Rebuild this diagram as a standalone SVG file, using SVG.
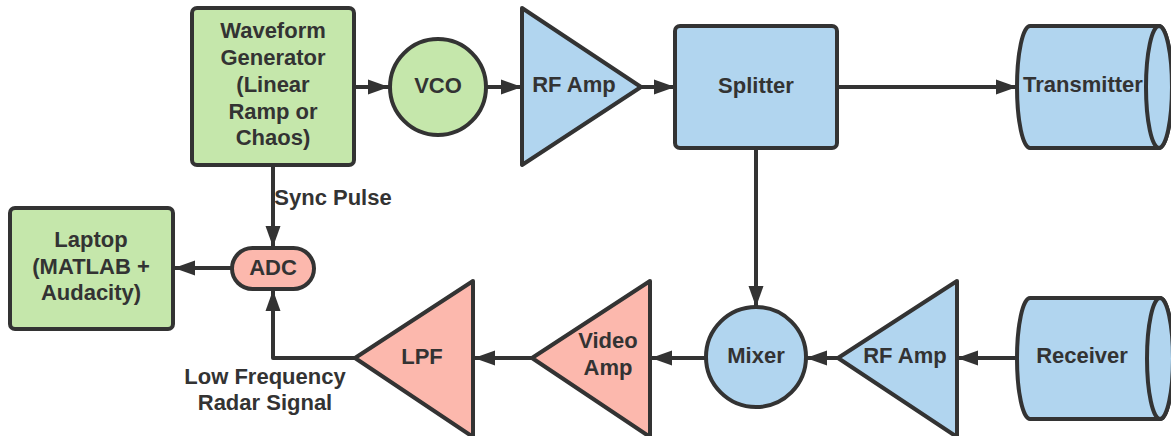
<svg xmlns="http://www.w3.org/2000/svg" width="1171" height="436" viewBox="0 0 1171 436">
<defs>
<style>
.n{stroke:#333;stroke-width:4;stroke-linejoin:round}
.g{fill:#c5e7ab}
.b{fill:#b1d5ef}
.p{fill:#fcb8ad}
.c{fill:none;stroke:#333;stroke-width:4}
text{font-family:"Liberation Sans",Arial,sans-serif;font-weight:bold;font-size:22px;fill:#333;text-anchor:middle;dominant-baseline:central}
</style>
<marker id="ah" markerUnits="userSpaceOnUse" markerWidth="21" markerHeight="16" refX="21" refY="8" orient="auto">
<path d="M0,0.5 L21,8 L0,15.5 z" fill="#333"/>
</marker>
</defs>
<rect width="1171" height="436" fill="#fff"/>
<g id="connectors">
<line class="c" x1="354" y1="87" x2="389" y2="87" marker-end="url(#ah)"/>
<line class="c" x1="486" y1="87" x2="522" y2="87" marker-end="url(#ah)"/>
<line class="c" x1="641" y1="87" x2="675" y2="87" marker-end="url(#ah)"/>
<line class="c" x1="837" y1="87" x2="1017" y2="87" marker-end="url(#ah)"/>
<line class="c" x1="756" y1="148" x2="756" y2="307" marker-end="url(#ah)"/>
<line class="c" x1="1017" y1="358" x2="957" y2="358" marker-end="url(#ah)"/>
<line class="c" x1="838" y1="358" x2="806" y2="358" marker-end="url(#ah)"/>
<line class="c" x1="705" y1="358" x2="651" y2="358" marker-end="url(#ah)"/>
<line class="c" x1="532" y1="358" x2="474" y2="358" marker-end="url(#ah)"/>
<polyline class="c" points="355,358 273,358 273,290" stroke-linejoin="round" marker-end="url(#ah)"/>
<line class="c" x1="273" y1="166" x2="273" y2="247" marker-end="url(#ah)"/>
<line class="c" x1="232" y1="268" x2="174" y2="268" marker-end="url(#ah)"/>
<text x="333" y="197">Sync Pulse</text>
<text x="265" y="376">Low Frequency</text>
<text x="265" y="402">Radar Signal</text>
</g>
<g id="waveform">
<rect class="n g" x="192" y="8" width="162" height="157" rx="5"/>
<text x="273" y="30">Waveform</text>
<text x="273" y="57">Generator</text>
<text x="273" y="84">(Linear</text>
<text x="273" y="111">Ramp or</text>
<text x="273" y="137">Chaos)</text>
</g>
<g id="vco">
<circle class="n g" cx="438" cy="87" r="48"/>
<text x="438" y="85">VCO</text>
</g>
<g id="rfamp1">
<path class="n b" d="M522,8 L641,87 L522,165 Z"/>
<text x="574" y="84">RF Amp</text>
</g>
<g id="splitter">
<rect class="n b" x="675" y="26" width="162" height="122" rx="5"/>
<text x="756" y="85">Splitter</text>
</g>
<g id="transmitter">
<path class="n b" d="M1030,26 L1159,26 A13,61 0 0 1 1159,148 L1030,148 A13,61 0 0 1 1030,26 Z"/>
<ellipse class="n b" cx="1159" cy="87" rx="13" ry="61"/>
<text x="1083" y="84">Transmitter</text>
</g>
<g id="receiver">
<path class="n b" d="M1030,298 L1160,298 A13,60.5 0 0 1 1160,419 L1030,419 A13,60.5 0 0 1 1030,298 Z"/>
<ellipse class="n b" cx="1160" cy="358.5" rx="13" ry="60.5"/>
<text x="1082" y="355">Receiver</text>
</g>
<g id="rfamp2">
<path class="n b" d="M957,281 L838,358 L957,437 Z"/>
<text x="905" y="355">RF Amp</text>
</g>
<g id="mixer">
<circle class="n b" cx="756" cy="357" r="50"/>
<text x="756" y="355">Mixer</text>
</g>
<g id="videoamp">
<path class="n p" d="M650,281 L532,358 L650,437 Z"/>
<text x="608" y="340">Video</text>
<text x="608" y="367">Amp</text>
</g>
<g id="lpf">
<path class="n p" d="M473,281 L355,358 L473,437 Z"/>
<text x="422" y="356">LPF</text>
</g>
<g id="adc">
<rect class="n p" x="232" y="248" width="82" height="41" rx="20.5"/>
<text x="273" y="267">ADC</text>
</g>
<g id="laptop">
<rect class="n g" x="10" y="208" width="163" height="121" rx="5"/>
<text x="91" y="239">Laptop</text>
<text x="91" y="266">(MATLAB +</text>
<text x="91" y="292">Audacity)</text>
</g>
</svg>
